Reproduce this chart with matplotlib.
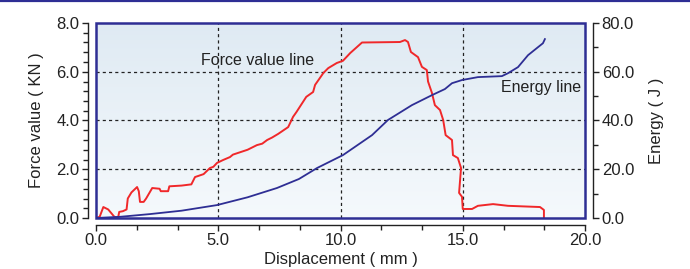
"""Force / energy vs displacement curve."""
import numpy as np
import matplotlib
matplotlib.use("Agg")
import matplotlib.pyplot as plt
from matplotlib.lines import Line2D
from matplotlib.patches import Rectangle
from matplotlib.ticker import MultipleLocator

plt.rcParams['font.family'] = ['Liberation Sans', 'DejaVu Sans']

# force value line (displacement mm, force KN)
force_x = [0.0, 0.15, 0.3, 0.5, 0.75, 0.9, 0.95, 1.1, 1.25, 1.3, 1.45, 1.68, 1.75,
           1.8, 1.95, 2.05, 2.3, 2.6, 2.65, 2.95, 3.0, 3.5, 3.9, 4.05, 4.4, 4.66,
           4.8, 4.95, 5.2, 5.48, 5.6, 5.9, 6.2, 6.58, 6.8, 7.0, 7.2, 7.45, 7.86,
           8.06, 8.2, 8.6, 8.88, 8.96, 9.3, 9.5, 9.85, 10.1, 10.4, 10.88, 12.43,
           12.64, 12.76, 12.88, 13.17, 13.33, 13.53, 13.58, 13.74, 13.86, 14.07,
           14.2, 14.3, 14.56, 14.6, 14.8, 14.93, 14.85, 14.97, 15.0, 15.38, 15.62,
           16.24, 16.85, 18.16, 18.32, 18.32]
force_y = [0.0, 0.05, 0.45, 0.35, 0.05, 0.0, 0.25, 0.28, 0.35, 0.8, 1.05, 1.27, 1.1,
           0.66, 0.66, 0.8, 1.23, 1.2, 1.1, 1.1, 1.3, 1.33, 1.38, 1.68, 1.8, 2.05,
           2.1, 2.26, 2.38, 2.5, 2.6, 2.7, 2.8, 2.99, 3.05, 3.2, 3.3, 3.45, 3.73,
           4.15, 4.35, 4.97, 5.17, 5.46, 5.95, 6.15, 6.36, 6.45, 6.77, 7.2, 7.22,
           7.3, 7.22, 6.81, 6.6, 6.2, 6.07, 5.6, 5.13, 4.63, 4.43, 4.02, 3.4, 3.2,
           2.58, 2.46, 2.05, 1.03, 0.87, 0.37, 0.37, 0.5, 0.57, 0.5, 0.45, 0.33, 0.02]

# energy line (displacement mm, energy J)
energy_x = [0.0, 1.0, 2.2, 3.5, 4.95, 6.2, 7.4, 8.3, 9.04, 10.1, 11.29, 11.94, 12.92,
            13.74, 14.27, 14.56, 14.97, 15.62, 16.6, 16.85, 17.26, 17.67, 18.08,
            18.28, 18.36]
energy_y = [0.0, 0.5, 1.6, 3.0, 5.3, 8.5, 12.3, 16.0, 20.5, 25.8, 34.0, 40.2, 46.3,
            50.4, 52.9, 55.3, 56.6, 57.8, 58.2, 59.4, 61.9, 66.8, 70.1, 71.7, 73.4]

NAVY = "#2e2e94"
RED = "#f0282a"
INK = "#222222"

fig = plt.figure(figsize=(6.9, 2.69), dpi=100)
ax = fig.add_axes([96 / 690, 51 / 269, 489 / 690, 195 / 269])
ax2 = ax.twinx()

# pale blue gradient background
grad = np.linspace(0, 1, 256).reshape(-1, 1)
cmap = matplotlib.colors.LinearSegmentedColormap.from_list("bg", ["#f5f9fc", "#dfeaf3"])
ax.imshow(grad, extent=[0, 1, 0, 1], transform=ax.transAxes, origin="lower",
          cmap=cmap, aspect="auto", zorder=0)

ax.plot(force_x, force_y, color=RED, lw=1.4, zorder=3)
ax2.plot(energy_x, energy_y, color=NAVY, lw=1.3, zorder=3)

ax.set_xlim(0, 20)
ax.set_ylim(0, 8)
ax2.set_ylim(0, 80)

for v in (5, 10, 15):
    ax.axvline(v, color=INK, lw=0.9, ls=(0, (2.5, 2.5)), zorder=1)
for v in (2, 4, 6):
    ax.axhline(v, color=INK, lw=0.9, ls=(0, (2.5, 2.5)), zorder=1)

# navy frame around plot area
ax.add_patch(Rectangle((0, 0), 1, 1, transform=ax.transAxes, fill=False,
                       edgecolor=NAVY, lw=1.8, zorder=5, clip_on=False))

for a in (ax, ax2):
    a.spines["top"].set_visible(False)
ax.spines["right"].set_visible(False)
ax2.spines["left"].set_visible(False)
ax2.spines["bottom"].set_visible(False)
ax.spines["left"].set_position(("outward", 6))
ax.spines["bottom"].set_position(("outward", 5))
ax2.spines["right"].set_position(("outward", 6))
for s in (ax.spines["left"], ax.spines["bottom"], ax2.spines["right"]):
    s.set_color(INK)
    s.set_linewidth(1.0)

ax.xaxis.set_major_locator(MultipleLocator(5))
ax.xaxis.set_minor_locator(MultipleLocator(5 / 3))
ax.yaxis.set_major_locator(MultipleLocator(2))
ax.yaxis.set_minor_locator(MultipleLocator(0.4))
ax2.yaxis.set_major_locator(MultipleLocator(20))
ax2.yaxis.set_minor_locator(MultipleLocator(10))
ax.xaxis.set_major_formatter("{x:.1f}")
ax.yaxis.set_major_formatter("{x:.1f}")
ax2.yaxis.set_major_formatter("{x:.1f}")

ax.tick_params(axis="both", which="major", length=4, width=1, labelsize=12,
               colors=INK, pad=2)
ax.tick_params(axis="both", which="minor", length=3.5, width=1, colors=INK)
ax2.tick_params(axis="y", which="major", length=4, width=1, labelsize=12,
                colors=INK, pad=2)
ax2.tick_params(axis="y", which="minor", length=3.5, width=1, colors=INK)

ax.set_xlabel("Displacement ( mm )", fontsize=12, color=INK, labelpad=3)
ax.set_ylabel("Force value ( KN )", fontsize=12, color=INK, labelpad=9)
ax2.set_ylabel("Energy ( J )", fontsize=12, color=INK, labelpad=11)

ax.text(6.6, 6.45, "Force value line", fontsize=11.5, color=INK,
        ha="center", va="center", zorder=4)
ax.text(19.85, 5.35, "Energy line", fontsize=11.5, color=INK,
        ha="right", va="center", zorder=4)

# navy rule along the top of the figure
fig.add_artist(Line2D([0, 1], [0.996, 0.996], transform=fig.transFigure,
                      color=NAVY, lw=1.6))

fig.savefig("out.png", dpi=100)
